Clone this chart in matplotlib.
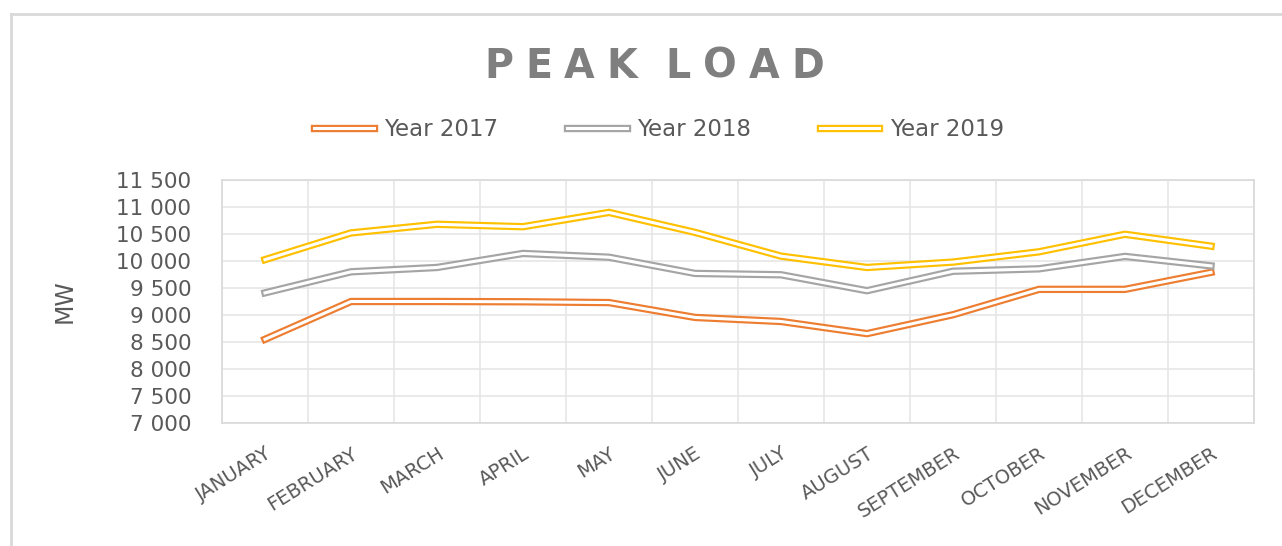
import matplotlib
matplotlib.use("Agg")
import matplotlib.pyplot as plt
import matplotlib.patheffects as pe
from matplotlib.lines import Line2D

# Data
months = ["JANUARY", "FEBRUARY", "MARCH", "APRIL", "MAY", "JUNE", "JULY",
          "AUGUST", "SEPTEMBER", "OCTOBER", "NOVEMBER", "DECEMBER"]
year_2017 = [8550, 9250, 9250, 9245, 9230, 8955, 8880, 8655, 9005, 9475, 9475, 9790]
year_2018 = [9410, 9800, 9880, 10140, 10070, 9770, 9745, 9450, 9810, 9855, 10085, 9910]
year_2019 = [10025, 10520, 10680, 10635, 10900, 10530, 10090, 9880, 9980, 10170, 10495, 10275]
series_names = ["Year 2017", "Year 2018", "Year 2019"]
y_ticks = [7000, 7500, 8000, 8500, 9000, 9500, 10000, 10500, 11000, 11500]
y_tick_labels = ["7 000", "7 500", "8 000", "8 500", "9 000", "9 500",
                 "10 000", "10 500", "11 000", "11 500"]

colors = ["#ED7D31", "#A5A5A5", "#FFC000"]
text_color = "#595959"
W, H = 1282, 546
outer_lw, inner_lw = 5.3, 2.2

plt.rcParams["font.family"] = ["DejaVu Sans"]

fig = plt.figure(figsize=(W / 100, H / 100), dpi=100)
ax = fig.add_axes([222 / W, 1 - 423 / H, (1254 - 222) / W, (423 - 180) / H])

x = list(range(len(months)))
for vals, name, c in zip([year_2017, year_2018, year_2019], series_names, colors):
    # Excel-style double line: thick coloured stroke with a white core
    ax.plot(x, vals, color="white", lw=inner_lw, label=name, solid_joinstyle="miter",
            path_effects=[pe.Stroke(linewidth=outer_lw, foreground=c), pe.Normal()])

ax.set_xlim(-0.5, len(months) - 0.5)
ax.set_ylim(7000, 11500)
ax.set_yticks(y_ticks)
ax.set_yticklabels(y_tick_labels)
ax.set_xticks(x)
ax.set_xticklabels(months, rotation=32, ha="right", rotation_mode="anchor")
ax.set_xticks([i - 0.5 for i in range(len(months) + 1)], minor=True)
ax.grid(True, which="major", axis="y", color="#E6E6E6", lw=1.2)
ax.grid(True, which="minor", axis="x", color="#E6E6E6", lw=1.2)
ax.set_axisbelow(True)
ax.tick_params(axis="both", which="both", length=0)
ax.tick_params(axis="y", labelsize=15.5, labelcolor=text_color, pad=22)
ax.tick_params(axis="x", labelsize=14, labelcolor=text_color, pad=15)
for s in ax.spines.values():
    s.set_color("#D9D9D9")
    s.set_linewidth(1.2)

ax.set_ylabel("MW", fontsize=17, color=text_color)
ax.yaxis.set_label_coords((77 - 222) / (1254 - 222), 0.5)

# Legend
handles = [Line2D([], [], color="white", lw=inner_lw,
                  path_effects=[pe.Stroke(linewidth=outer_lw, foreground=c), pe.Normal()])
           for c in colors]
fig.legend(handles, series_names, loc="center", bbox_to_anchor=(659 / W, 1 - 130 / H),
           ncol=3, frameon=False, fontsize=16.5, labelcolor=text_color,
           handlelength=2.6, handletextpad=0.45, columnspacing=3.0)

# Outer chart frame (only left and top edges visible in the crop)
fig.add_artist(Line2D([11 / W, 11 / W], [0, 1 - 14 / H], color="#D9D9D9", lw=2,
                      transform=fig.transFigure))
fig.add_artist(Line2D([11 / W, 1], [1 - 14 / H, 1 - 14 / H], color="#D9D9D9", lw=2,
                      transform=fig.transFigure))

# Letter-spaced title
title = "PEAK LOAD"
title_kw = dict(fontsize=28.5, fontweight="bold", color="#7F7F7F")
fig.canvas.draw()
r = fig.canvas.get_renderer()
widths = []
for ch in title:
    if ch == " ":
        widths.append(0.1 * 28.5 * 100 / 72)
        continue
    t = fig.text(0, 0, ch, **title_kw)
    widths.append(t.get_window_extent(r).width)
    t.remove()
tracking = 12
total = sum(widths) + tracking * (len(title) - 1)
xpos = 654 - total / 2
for ch, w in zip(title, widths):
    if ch != " ":
        fig.text(xpos / W, 1 - 78 / H, ch, ha="left", va="baseline", **title_kw)
    xpos += w + tracking

fig.savefig("out.png", dpi=100)
